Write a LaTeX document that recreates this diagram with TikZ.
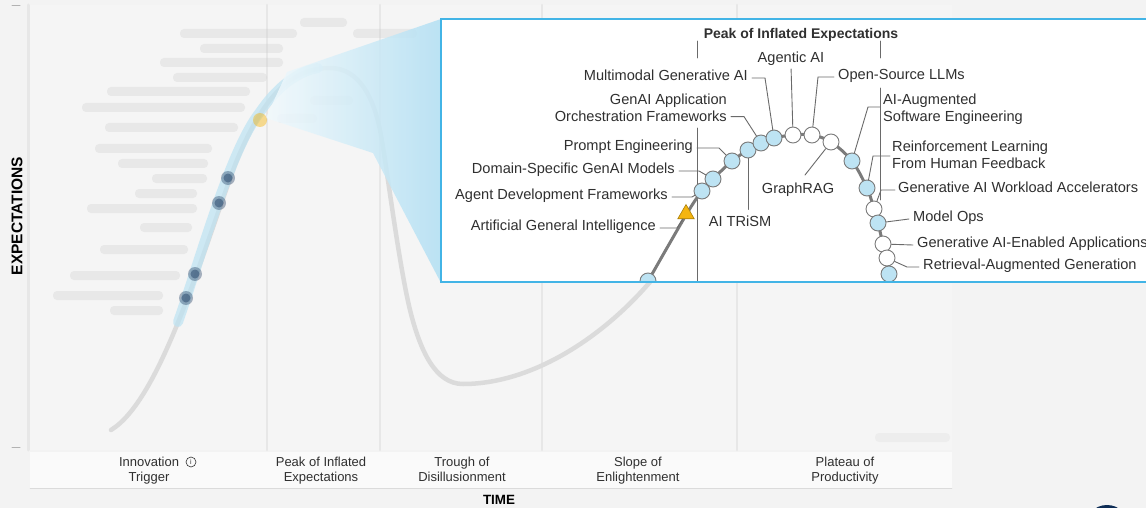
\documentclass[tikz,border=0pt]{standalone}
\usepackage{fontspec}
\setmainfont{Liberation Sans}
\usetikzlibrary{shapes.geometric}

\begin{document}
\begin{tikzpicture}
	[x=1pt,y=-1pt,line cap=round,
	%Styles
	blur bar/.style={rounded corners=4pt,fill=black!20,opacity=.3},
	phase text/.style={align=center,anchor=north,text=textgray,inner sep=0pt,font=\fontsize{13}{14.5}\selectfont},
	axis text/.style={text=black,inner sep=0pt,font=\fontsize{14}{14}\selectfont\bfseries},
	info text/.style={text=textgray,inner sep=0pt,yshift=-2pt,font=\fontsize{14.6}{16.5}\selectfont},
	leader/.style={draw=leadgray,line width=.9pt},
	hype dot/.style={circle,draw=dotedge,line width=.9pt,fill=dotblue,minimum size=16pt,inner sep=0pt},
	open dot/.style={hype dot,fill=white}
	]

	%Colors
	\definecolor{pagegray}{HTML}{F3F3F3}
	\definecolor{plotgray}{HTML}{F5F5F5}
	\definecolor{gridgray}{HTML}{E7E7E7}
	\definecolor{textgray}{HTML}{303030}
	\definecolor{leadgray}{HTML}{6A6A6A}
	\definecolor{dotedge}{HTML}{7A7A7A}
	\definecolor{dotblue}{HTML}{BDE3F3}
	\definecolor{curvegray}{HTML}{7B7B7B}
	\definecolor{zoomblue}{HTML}{42B4E6}
	\definecolor{agiyellow}{HTML}{F5B50F}
	\definecolor{navy}{HTML}{0E2D55}

	\clip (0,0) rectangle (1146,508);
	\fill[pagegray] (0,0) rectangle (1146,508);

	%The background chart (blurred)
	\fill[plotgray] (30,5) rectangle (952,450);
	\draw[gridgray,line width=3pt] (28,5) -- (28,450);
	\draw[gridgray,line width=2.5pt] (267,5) -- (267,450);
	\draw[gridgray,line width=2.5pt] (380,5) -- (380,450);
	\draw[gridgray,line width=2.5pt] (542,5) -- (542,450);
	\draw[gridgray,line width=2.5pt] (737,5) -- (737,450);
	\fill[white!55!plotgray] (30,452) rectangle (952,488);
	\draw[black!14] (30,488) -- (952,488);
	\draw[black!30,line width=1pt] (12,6) -- (20,6);
	\draw[black!30,line width=1pt] (12,447) -- (20,447);

	\draw[black!14,line width=4.5pt] (111,430) .. controls (160,400) and (200,260) .. (235,165)
		.. controls (265,90) and (295,68) .. (330,68) .. controls (360,68) and (374,100) .. (380,130)
		.. controls (386,160) and (398,260) .. (410,310) .. controls (420,350) and (435,384) .. (463,384)
		.. controls (530,384) and (600,340) .. (650,282);
	\draw[dotblue,line width=10pt,opacity=.7] (178,322) .. controls (200,260) and (230,150) .. (260,112)
		.. controls (275,90) and (295,72) .. (318,68);

	\fill[navy,opacity=.35] (228,178) circle (7pt);
	\fill[navy,opacity=.35] (219,203) circle (7pt);
	\fill[navy,opacity=.35] (195,274) circle (7pt);
	\fill[navy,opacity=.35] (186,298) circle (7pt);
	\fill[navy,opacity=.4] (228,178) circle (4.5pt);
	\fill[navy,opacity=.4] (219,203) circle (4.5pt);
	\fill[navy,opacity=.4] (195,274) circle (4.5pt);
	\fill[navy,opacity=.4] (186,298) circle (4.5pt);

	\fill[blur bar] (300,18) rectangle (347,27);
	\fill[blur bar] (180,29) rectangle (297,38);
	\fill[blur bar] (353,29) rectangle (417,38);
	\fill[blur bar] (200,44) rectangle (283,53);
	\fill[blur bar] (160,58) rectangle (283,67);
	\fill[blur bar] (173,73) rectangle (267,82);
	\fill[blur bar] (107,87) rectangle (250,96);
	\fill[blur bar] (82,103) rectangle (245,112);
	\fill[blur bar] (105,123) rectangle (238,132);
	\fill[blur bar] (95,144) rectangle (212,153);
	\fill[blur bar] (118,159) rectangle (208,168);
	\fill[blur bar] (152,174) rectangle (207,183);
	\fill[blur bar] (135,189) rectangle (197,198);
	\fill[blur bar] (87,204) rectangle (197,213);
	\fill[blur bar] (140,223) rectangle (192,232);
	\fill[blur bar] (100,245) rectangle (188,254);
	\fill[blur bar] (70,271) rectangle (180,280);
	\fill[blur bar] (53,291) rectangle (163,300);
	\fill[blur bar] (110,306) rectangle (163,315);
	\fill[blur bar] (310,96) rectangle (353,105);
	\fill[blur bar] (277,114) rectangle (317,123);
	\fill[blur bar,opacity=.18] (875,433) rectangle (950,442);

	%Axes
	\node[axis text,font=\fontsize{15.5}{15.5}\selectfont\bfseries,rotate=90] (yaxis) at (17,216) {EXPECTATIONS};
	\node[axis text,font=\fontsize{13.4}{13.4}\selectfont\bfseries] (xaxis) at (499,500) {TIME};
	\node[phase text] (trigger) at (149,457) {Innovation\\Trigger};
	\node[circle,draw=textgray,line width=.6pt,inner sep=0pt,minimum size=10pt,text=textgray,
		font=\fontsize{7}{7}\selectfont] (info) at (191,462) {i};
	\node[phase text] (peak) at (321,457) {Peak of Inflated\\Expectations};
	\node[phase text] (trough) at (462,457) {Trough of\\Disillusionment};
	\node[phase text] (slope) at (638,457) {Slope of\\Enlightenment};
	\node[phase text] (plateau) at (845,457) {Plateau of\\Productivity};
	\fill[navy] (1107,527) circle (22pt);

	%Zoom cone and inset
	\shade[left color=dotblue!20,right color=dotblue!75!zoomblue!80,opacity=.85]
		(266,118) -- (287,72) -- (441,19) -- (441,283) -- (373,153) -- cycle;
	\fill[agiyellow,opacity=.45] (260,120) circle (7pt);
	\draw[zoomblue,line width=2.5pt,fill=white] (441,19) rectangle (1160,282);

	\begin{scope}
		\clip (442.5,20.5) rectangle (1160,280.5);
		\draw[leadgray,line width=.9pt] (697,41) -- (697,58);
		\draw[leadgray,line width=.9pt] (697,128) -- (697,282);
		\draw[leadgray,line width=.9pt] (880,41) -- (880,58);
		\draw[leadgray,line width=.9pt] (880,88) -- (880,200);

		\draw[curvegray,line width=3pt] plot[smooth,tension=.55] coordinates {(643,290) (686,215)
			(702,191) (713,179) (732,161) (748,150) (761,143) (774,138) (793,135) (812,135) (831,142)
			(852,161) (867,188) (874,209) (878,223) (883,244) (887,258) (889,274) (890,292)};

		\node[hype dot] (emb) at (648,281) {};
		\node[regular polygon,regular polygon sides=3,fill=agiyellow,draw=agiyellow!70!black,
			line width=.6pt,minimum size=19pt,inner sep=0pt] (agi) at (686,214) {};
		\node[hype dot] (adf) at (702,191) {};
		\node[hype dot] (dsm) at (713,179) {};
		\node[hype dot] (pe) at (732,161) {};
		\node[hype dot] (trism) at (748,150) {};
		\node[hype dot] (orch) at (761,143) {};
		\node[hype dot] (mmg) at (774,138) {};
		\node[open dot] (agentic) at (793,135) {};
		\node[open dot] (oss) at (812,135) {};
		\node[open dot] (grag) at (831,142) {};
		\node[hype dot] (aase) at (852,161) {};
		\node[hype dot] (rlhf) at (867,188) {};
		\node[open dot] (gwa) at (874,209) {};
		\node[hype dot] (mops) at (878,223) {};
		\node[open dot] (gaea) at (883,244) {};
		\node[open dot] (rag) at (887,258) {};
		\node[hype dot] (last) at (889,274) {};
	\end{scope}

	\node[info text,font=\fontsize{14}{14}\selectfont\bfseries] (lpeak) at (801,33) {Peak of Inflated Expectations};
	\node[info text,anchor=mid east] (lagi) at (656,226) {Artificial General Intelligence};
	\node[info text,anchor=mid east] (ladf) at (668,195) {Agent Development Frameworks};
	\node[info text,anchor=mid east] (ldsm) at (675,169) {Domain-Specific GenAI Models};
	\node[info text,anchor=mid east] (lpe) at (693,146) {Prompt Engineering};
	\node[info text] (ltrism) at (740,219) {AI TRiSM};
	\node[info text,anchor=north east,align=right] (lorch) at (727,92) {GenAI Application\\Orchestration Frameworks};
	\node[info text,anchor=mid east] (lmmg) at (748,76) {Multimodal Generative AI};
	\node[info text] (lagentic) at (791,57) {Agentic AI};
	\node[info text,anchor=mid west] (loss) at (838,75) {Open-Source LLMs};
	\node[info text] (lgrag) at (798,188) {GraphRAG};
	\node[info text,anchor=north west,align=left] (laase) at (883,92) {AI-Augmented\\Software Engineering};
	\node[info text,anchor=north west,align=left] (lrlhf) at (892,139) {Reinforcement Learning\\From Human Feedback};
	\node[info text,anchor=mid west] (lgwa) at (898,188) {Generative AI Workload Accelerators};
	\node[info text,anchor=mid west] (lmops) at (913,217) {Model Ops};
	\node[info text,anchor=mid west] (lgaea) at (917,243) {Generative AI-Enabled Applications};
	\node[info text,anchor=mid west] (lrag) at (923,265) {Retrieval-Augmented Generation};

	\draw[leader] ([xshift=4pt]lagi.mid east) -- ++(17,0) -- (agi);
	\draw[leader] ([xshift=4pt]ladf.mid east) -- ++(20,0) -- (adf);
	\draw[leader] ([xshift=4pt]ldsm.mid east) -- ++(20,0) -- (dsm);
	\draw[leader] ([xshift=4pt]lpe.mid east) -- ++(22,0) -- (pe);
	\draw[leader,shorten >=6pt] (trism) -- (trism |- ltrism.north);
	\draw[leader] ([shift={(4,-5)}]lorch.south east) -- ++(13,0) -- (orch);
	\draw[leader] ([xshift=4pt]lmmg.mid east) -- ++(13,0) -- (mmg);
	\draw[leader,shorten <=3pt] (lagentic.south) -- (agentic);
	\draw[leader] ([xshift=-4pt]loss.mid west) -- ++(-16,0) -- (oss);
	\draw[leader] ([shift={(7,-8)}]lgrag.north) -- (grag);
	\draw[leader] (aase) -- ([shift={(-15,13)}]laase.north west) -- ([shift={(-3,13)}]laase.north west);
	\draw[leader] ([shift={(-2,15)}]lrlhf.north west) -- ++(-17,0) -- (rlhf);
	\draw[leader] ([xshift=-3pt]lgwa.mid west) -- ++(-14,0) -- (gwa);
	\draw[leader] ([xshift=-4pt]lmops.mid west) -- (mops);
	\draw[leader] ([xshift=-4pt]lgaea.mid west) -- (gaea);
	\draw[leader] ([xshift=-4pt]lrag.mid west) -- ++(-12,0) -- (rag);
\end{tikzpicture}
\end{document}
